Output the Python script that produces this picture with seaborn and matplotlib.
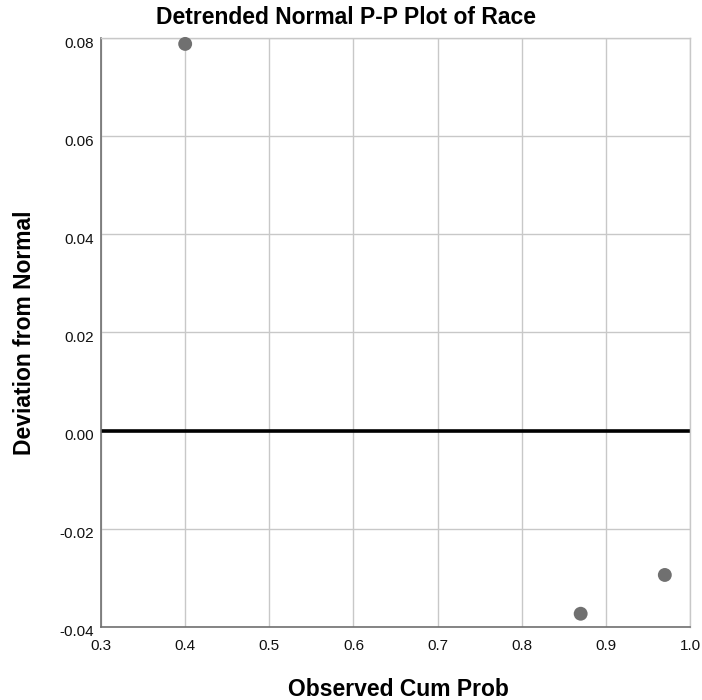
import matplotlib
matplotlib.use("Agg")
import matplotlib.pyplot as plt
import matplotlib.transforms as mtransforms
import seaborn as sns
import pandas as pd

obs_cum_prob = [0.40, 0.87, 0.97]
deviation = [0.0788, -0.0373, -0.0294]
x_ticks = [0.3, 0.4, 0.5, 0.6, 0.7, 0.8, 0.9, 1.0]
y_ticks = [-0.04, -0.02, 0.00, 0.02, 0.04, 0.06, 0.08]

sns.set_style("white")
plt.rcParams['font.family'] = ['Liberation Sans', 'DejaVu Sans']
plt.rcParams['text.color'] = 'black'
plt.rcParams['axes.labelcolor'] = 'black'

df = pd.DataFrame({"x": obs_cum_prob, "y": deviation})

fig = plt.figure(figsize=(7.02, 7.0), dpi=100)
ax = fig.add_axes([0.1439, 0.1043, 0.983 - 0.1439, 0.9457 - 0.1043])

ax.set_xlim(0.3, 1.0)
ax.set_ylim(-0.04, 0.08)
ax.set_xticks(x_ticks)
ax.set_yticks(y_ticks)
ax.set_xticklabels([f"{v:.1f}" for v in x_ticks])
ax.set_yticklabels([f"{v:.2f}" for v in y_ticks])
ax.grid(True, color="#c8c8c8", linewidth=1.0)
ax.set_axisbelow(True)

ax.axhline(0, color="black", linewidth=2.6, zorder=2)

sns.scatterplot(data=df, x="x", y="y", ax=ax, color="#707070", s=100,
                edgecolor="none", zorder=3, clip_on=False)

for side in ["top", "right"]:
    ax.spines[side].set_color("#c8c8c8")
    ax.spines[side].set_linewidth(1.0)
for side in ["left", "bottom"]:
    ax.spines[side].set_color("#707070")
    ax.spines[side].set_linewidth(1.2)

ax.tick_params(axis="both", length=0, labelsize=11, colors="#111111")
ax.tick_params(axis="x", pad=9)
ax.tick_params(axis="y", pad=5)

offset = mtransforms.ScaledTranslation(0, -4 / 100, fig.dpi_scale_trans)
for lbl in ax.get_yticklabels():
    lbl.set_transform(lbl.get_transform() + offset)

ax.set_xlabel("Observed Cum Prob", fontsize=16.5, fontweight="bold", color="black")
ax.xaxis.set_label_coords(398 / 702, 10 / 700, transform=fig.transFigure)
ax.set_ylabel("Deviation from Normal", fontsize=16.5, fontweight="bold", color="black")
ax.yaxis.set_label_coords(25 / 702, 0.5, transform=mtransforms.blended_transform_factory(fig.transFigure, ax.transAxes))
ax.xaxis.label.set_va("center")
ax.yaxis.label.set_va("center")

fig.text(346 / 702, 1 - 18 / 700, "Detrended Normal P-P Plot of Race",
         fontsize=16.5, fontweight="bold", ha="center", va="center", color="black")

fig.savefig("out.png", dpi=100)
